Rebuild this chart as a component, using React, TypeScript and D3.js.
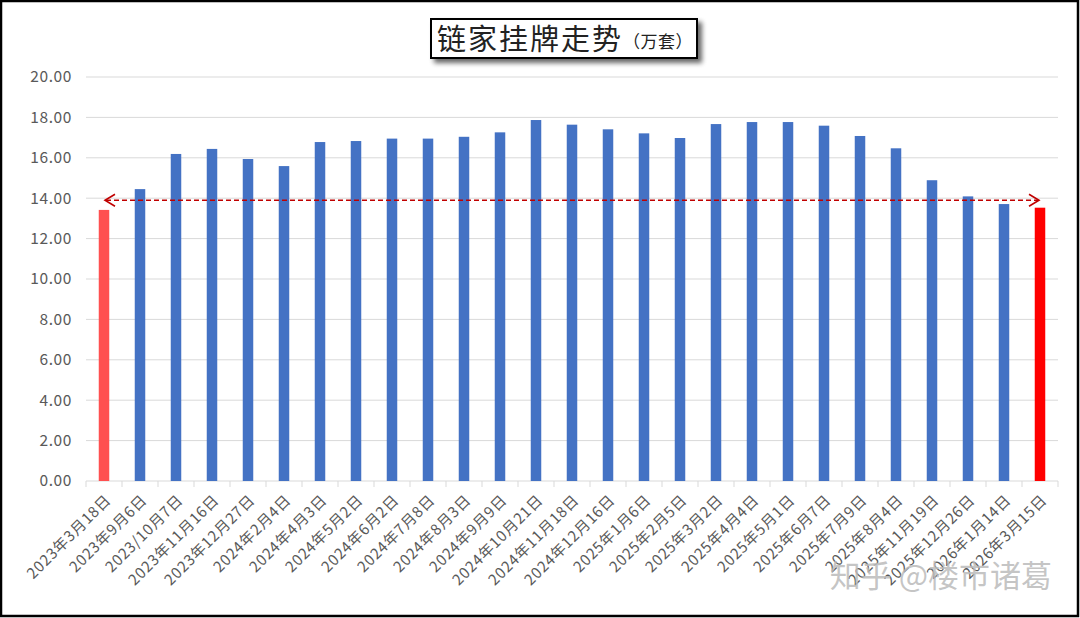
import React from "react";
import * as d3 from "d3";

const categories = [
  "2023年3月18日", "2023年9月6日", "2023/10月7日", "2023年11月16日", "2023年12月27日",
  "2024年2月4日", "2024年4月3日", "2024年5月2日", "2024年6月2日", "2024年7月8日",
  "2024年8月3日", "2024年9月9日", "2024年10月21日", "2024年11月18日", "2024年12月16日",
  "2025年1月6日", "2025年2月5日", "2025年3月2日", "2025年4月4日", "2025年5月1日",
  "2025年6月7日", "2025年7月9日", "2025年8月4日", "2025年11月19日", "2025年12月26日",
  "2026年1月14日", "2026年3月15日",
];
const values = [
  13.42, 14.45, 16.19, 16.44, 15.94, 15.59, 16.78, 16.83, 16.95, 16.95,
  17.04, 17.26, 17.87, 17.64, 17.41, 17.21, 16.98, 17.67, 17.77, 17.77,
  17.59, 17.08, 16.47, 14.89, 14.09, 13.71, 13.53,
];
const barColors = ["#ff5050", ...Array(25).fill("#4472c4"), "#ff0000"];
const yTicks = [0, 2, 4, 6, 8, 10, 12, 14, 16, 18, 20];
const refLevel = 13.9;
const title = "链家挂牌走势";
const unit = "（万套）";
const watermark = "知乎 @楼市诸葛";

export default function App() {
  const W = 1080, H = 618;
  const left = 86, right = 1058, top = 77, bottom = 481;
  const x = d3.scaleBand<string>().domain(categories).range([left, right]).paddingInner(0).paddingOuter(0);
  const y = d3.scaleLinear().domain([0, 20]).range([bottom, top]);
  const bw = 10.5;
  const cx = (c: string) => (x(c) as number) + x.bandwidth() / 2;
  const x0 = cx(categories[0]);
  const x1 = cx(categories[categories.length - 1]);
  const yr = y(refLevel);
  const font = "'Noto Sans CJK SC', 'Noto Sans', sans-serif";
  return (
    <svg width={W} height={H} style={{ position: "fixed", left: 0, top: 0, background: "#fff" }}>
      <defs>
        <filter id="sh" x="-10%" y="-20%" width="130%" height="160%">
          <feGaussianBlur in="SourceAlpha" stdDeviation="2.5" />
          <feOffset dx="4" dy="4" result="b" />
          <feComponentTransfer><feFuncA type="linear" slope="0.6" /></feComponentTransfer>
          <feMerge><feMergeNode /><feMergeNode in="SourceGraphic" /></feMerge>
        </filter>
      </defs>
      <rect x={1} y={1} width={W - 3} height={H - 3} fill="#fff" stroke="#000" strokeWidth={2.5} />
      {yTicks.map((t) => (
        <g key={t}>
          {t > 0 && <line x1={left} x2={right} y1={y(t)} y2={y(t)} stroke="#d9d9d9" strokeWidth={1} />}
          <text x={72} y={y(t)} dy="0.35em" textAnchor="end" fontSize={15.5} fill="#595959" fontFamily={font} letterSpacing={0.6}>
            {t.toFixed(2)}
          </text>
        </g>
      ))}
      <line x1={left} x2={right} y1={bottom} y2={bottom} stroke="#d9d9d9" strokeWidth={1} />
      {d3.range(categories.length + 1).map((i) => {
        const xx = left + i * x.bandwidth();
        return <line key={i} x1={xx} x2={xx} y1={bottom} y2={bottom + 6} stroke="#d9d9d9" />;
      })}
      {categories.map((c, i) => (
        <rect key={c} x={cx(c) - bw / 2} y={y(values[i])} width={bw} height={bottom - y(values[i])} fill={barColors[i]} />
      ))}
      <line x1={x0 + 2} x2={x1 - 2} y1={yr} y2={yr} stroke="#c00000" strokeWidth={1.6} strokeDasharray="5,3" />
      <path d={`M${x0 + 11},${yr - 6} L${x0 + 1},${yr} L${x0 + 11},${yr + 6}`} fill="none" stroke="#c00000" strokeWidth={1.6} />
      <path d={`M${x1 - 11},${yr - 6} L${x1 - 1},${yr} L${x1 - 11},${yr + 6}`} fill="none" stroke="#c00000" strokeWidth={1.6} />
      {categories.map((c) => (
        <text key={c} transform={`translate(${cx(c) + 8},${bottom + 20}) rotate(-45)`} textAnchor="end" fontSize={15} fill="#595959" fontFamily={font} letterSpacing={0.8}>
          {c}
        </text>
      ))}
      <g filter="url(#sh)">
        <rect x={431} y={19} width={266} height={39} fill="#fff" stroke="#000" strokeWidth={2} />
      </g>
      <text x={437} y={50} fontSize={29} fill="#222" fontFamily={font} letterSpacing={2}>
        {title}
        <tspan fontSize={17} dy={-2} letterSpacing={0.5}>{unit}</tspan>
      </text>
      <text x={1052} y={587} textAnchor="end" fontSize={31} fill="#bbbbbb" fillOpacity={0.85} fontFamily={font}>
        {watermark}
      </text>
    </svg>
  );
}
